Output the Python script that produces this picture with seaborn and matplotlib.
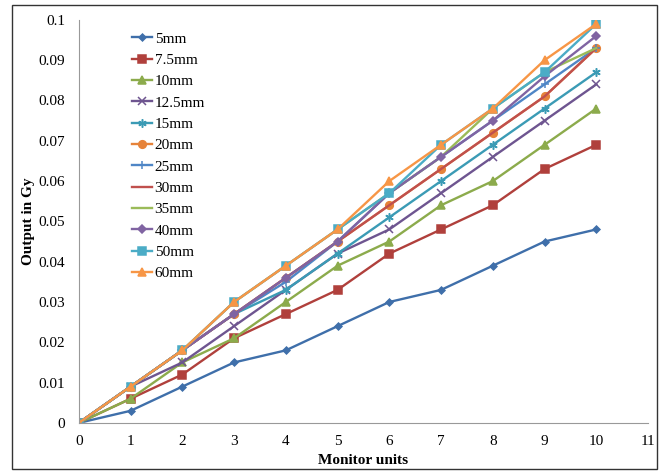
import numpy as np
import pandas as pd
import seaborn as sns
import matplotlib.pyplot as plt
from matplotlib.patches import Rectangle

# monitor units
mu = [0, 1, 2, 3, 4, 5, 6, 7, 8, 9, 10]

# output (Gy) per field size
out_5 = [0, 0.003, 0.009, 0.015, 0.018, 0.024, 0.030, 0.033, 0.039, 0.045, 0.048]
out_7_5 = [0, 0.006, 0.012, 0.021, 0.027, 0.033, 0.042, 0.048, 0.054, 0.063, 0.069]
out_10 = [0, 0.006, 0.015, 0.021, 0.030, 0.039, 0.045, 0.054, 0.060, 0.069, 0.078]
out_12_5 = [0, 0.009, 0.015, 0.024, 0.033, 0.042, 0.048, 0.057, 0.066, 0.075, 0.084]
out_15 = [0, 0.009, 0.018, 0.027, 0.033, 0.042, 0.051, 0.060, 0.069, 0.078, 0.087]
out_20 = [0, 0.009, 0.018, 0.027, 0.036, 0.045, 0.054, 0.063, 0.072, 0.081, 0.093]
out_25 = [0, 0.009, 0.018, 0.027, 0.035, 0.045, 0.057, 0.066, 0.075, 0.084, 0.093]
out_30 = [0, 0.009, 0.018, 0.027, 0.036, 0.045, 0.054, 0.063, 0.072, 0.081, 0.093]
out_35 = [0, 0.009, 0.018, 0.030, 0.039, 0.048, 0.057, 0.066, 0.078, 0.087, 0.093]
out_40 = [0, 0.009, 0.018, 0.027, 0.036, 0.045, 0.057, 0.066, 0.075, 0.086, 0.096]
out_50 = [0, 0.009, 0.018, 0.030, 0.039, 0.048, 0.057, 0.069, 0.078, 0.087, 0.099]
out_60 = [0, 0.009, 0.018, 0.030, 0.039, 0.048, 0.060, 0.069, 0.078, 0.090, 0.099]

labels = ["5mm", "7.5mm", "10mm", "12.5mm", "15mm", "20mm",
          "25mm", "30mm", "35mm", "40mm", "50mm", "60mm"]
series = [out_5, out_7_5, out_10, out_12_5, out_15, out_20,
          out_25, out_30, out_35, out_40, out_50, out_60]

colors = ["#3f6faa", "#b0403c", "#8cab4c", "#6e5590", "#3b9bb5", "#e6833a",
          "#4f86c6", "#c0504d", "#9bbb59", "#8064a2", "#4bacc6", "#f79646"]
markers = ["D", "s", "^", "x", (6, 2, 0), "o", "+", None, None, "D", "s", "^"]
msizes = [3.5, 5.5, 5.5, 5.5, 6, 5.5, 6, 0, 0, 4.5, 5.5, 5.5]

plt.rcParams['font.family'] = ['Liberation Serif', 'DejaVu Serif']

fig = plt.figure(figsize=(6.62, 4.72), dpi=100)
ax = fig.add_axes([0.119, 0.104, 0.860, 0.854])

for lab, vals, c, m, ms in zip(labels, series, colors, markers, msizes):
    df = pd.DataFrame({'mu': mu, 'out': vals})
    sns.lineplot(data=df, x='mu', y='out', color=c, marker=m, markersize=ms,
                 markeredgecolor=c, markeredgewidth=1.1, linewidth=1.7,
                 label=lab, ax=ax)

ax.set_xlim(0, 11)
ax.set_ylim(0, 0.1)
ax.set_xticks(range(0, 12))
ax.set_yticks(np.arange(0, 0.101, 0.01))
ax.set_yticklabels(["0", "0.01", "0.02", "0.03", "0.04", "0.05", "0.06",
                    "0.07", "0.08", "0.09", "0.1"])
ax.tick_params(labelsize=11, length=0)
ax.tick_params(axis='x', pad=9)
ax.tick_params(axis='y', pad=10)
for s in ['top', 'right']:
    ax.spines[s].set_visible(False)
for s in ['left', 'bottom']:
    ax.spines[s].set_color('#999999')
ax.set_xlabel("Monitor units", fontsize=11, fontweight='bold', labelpad=4)
ax.set_ylabel("Output in Gy", fontsize=11, fontweight='bold', labelpad=2)

ax.legend(loc='upper left', bbox_to_anchor=(0.093, 0.97), frameon=False,
          fontsize=11, handlelength=1.35, labelspacing=0.5, handletextpad=0.15,
          borderpad=0, borderaxespad=0)

fig.patches.append(Rectangle((0.018, 0.006), 0.974, 0.984, transform=fig.transFigure,
                             fill=False, edgecolor='#333333', linewidth=1))

fig.savefig("out.png", dpi=100)
